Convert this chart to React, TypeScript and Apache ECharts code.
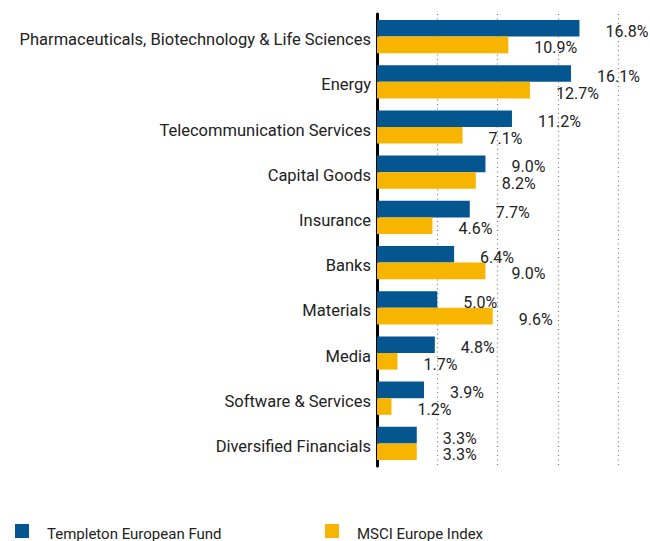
import React, { useEffect, useRef } from "react";
import * as echarts from "echarts";

const categories = [
  "Pharmaceuticals, Biotechnology & Life Sciences",
  "Energy",
  "Telecommunication Services",
  "Capital Goods",
  "Insurance",
  "Banks",
  "Materials",
  "Media",
  "Software & Services",
  "Diversified Financials",
];
const fundValues = [16.8, 16.1, 11.2, 9.0, 7.7, 6.4, 5.0, 4.8, 3.9, 3.3];
const indexValues = [10.9, 12.7, 7.1, 8.2, 4.6, 9.0, 9.6, 1.7, 1.2, 3.3];
const seriesNames = ["Templeton European Fund", "MSCI Europe Index"];

const FONT = 'Roboto, "Liberation Sans Narrow", sans-serif';
const BLUE = "#03568F";
const YELLOW = "#F8B500";

export default function App() {
  const ref = useRef<HTMLDivElement>(null);
  useEffect(() => {
    if (!ref.current) return;
    const chart = echarts.init(ref.current, null, { renderer: "svg" });
    const label = {
      show: true,
      position: "right",
      distance: 26,
      offset: [0, 3],
      fontFamily: FONT,
      fontSize: 16,
      color: "#222",
      formatter: (p: any) => Number(p.value).toFixed(1) + "%",
    };
    const legendBase = {
      top: 524,
      padding: 0,
      itemWidth: 14,
      itemHeight: 14,
      icon: "rect",
      formatter: (name: string) => "{t|" + name + "}",
      textStyle: {
        fontFamily: FONT,
        fontSize: 15,
        color: "#222",
        rich: {
          t: { fontFamily: FONT, fontSize: 15, color: "#222", padding: [6, 0, 0, 13] },
        },
      },
    };
    chart.setOption({
      animation: false,
      textStyle: { fontFamily: FONT },
      grid: {
        left: 377,
        width: 241,
        top: 14,
        height: 452,
        containLabel: false,
        outerBoundsMode: "none",
      },
      xAxis: {
        type: "value",
        min: 0,
        max: 20,
        interval: 5,
        axisLine: { show: false },
        axisTick: { show: false },
        axisLabel: { show: false },
        splitLine: {
          show: true,
          lineStyle: { color: "#777", width: 1.2, type: [1, 3.5] },
        },
      },
      yAxis: {
        type: "category",
        data: categories,
        inverse: true,
        axisLine: { show: true, lineStyle: { color: "#000", width: 3 } },
        axisTick: { show: false },
        axisLabel: {
          margin: 6,
          fontFamily: FONT,
          fontSize: 16.5,
          color: "#222",
          formatter: (v: string) => "{c|" + v + "}",
          rich: {
            c: { fontFamily: FONT, fontSize: 16.5, color: "#222", padding: [6, 0, 0, 0] },
          },
        },
        splitLine: { show: false },
      },
      legend: [
        { ...legendBase, data: [seriesNames[0]], left: 15 },
        { ...legendBase, data: [seriesNames[1]], left: 325 },
      ],
      series: [
        {
          name: seriesNames[0],
          type: "bar",
          data: fundValues,
          itemStyle: { color: BLUE },
          barGap: "0%",
          barCategoryGap: "26.5%",
          label,
          z: 1,
        },
        {
          name: seriesNames[1],
          type: "bar",
          data: indexValues,
          itemStyle: { color: YELLOW },
          barGap: "0%",
          barCategoryGap: "26.5%",
          label,
          z: 1,
        },
      ],
    });
    return () => chart.dispose();
  }, []);
  return (
    <div
      ref={ref}
      style={{ position: "fixed", left: 0, top: 0, width: 650, height: 541, background: "#fff" }}
    />
  );
}
